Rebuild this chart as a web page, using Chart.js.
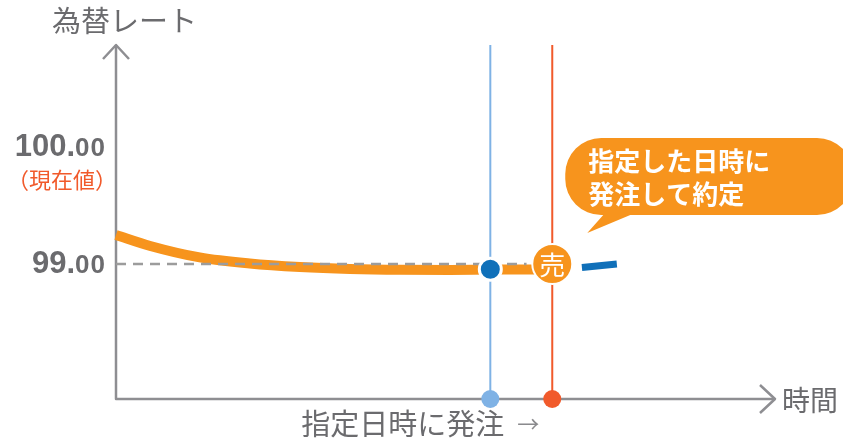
<!DOCTYPE html>
<html lang="ja">
<head>
<meta charset="utf-8">
<script src="https://cdn.jsdelivr.net/npm/chart.js@4.4.1/dist/chart.umd.min.js"></script>
<style>
  html, body { margin: 0; padding: 0; background: #fff; }
  #chart { display: block; }
</style>
</head>
<body>
<canvas id="chart" width="843" height="442"></canvas>
<script>
// 時間 (0〜100) と為替レート
const curveTimes = [0, 5.2, 12.7, 20.3, 27.9, 35.5, 43.1, 50.7, 56.8, 62.8, 66.2];
const curveRates = [99.248, 99.154, 99.056, 99.004, 98.974, 98.957, 98.95, 98.949, 98.952, 98.953, 98.953];
const afterTimes = [70.7, 76.0];
const afterRates = [98.97, 99.0];

const orderTime = 56.8;   // 指定日時
const orderRate = 98.955;
const saleTime = 66.2;    // 約定
const saleRate = 99.0;

const refRate = 99;
const refEnd = 62.3;

const yTicks = [99, 100];
const yTickLabels = ["99.00", "100.00"];
const rateMin = 97.846, rateMax = 100.872;
const timeMin = 0, timeMax = 100;

const gray = "#8e8e92";
const textGray = "#6b6b6e";
const orange = "#f7941d";
const red = "#f15a2b";
const lightBlue = "#7fb2e5";
const blue = "#1070b9";
const jp = '"Noto Sans CJK JP", sans-serif';
const num = '"Liberation Sans", Arial, sans-serif';

const pts = (xs, ys) => xs.map((v, i) => ({ x: v, y: ys[i] }));

// 軸・ラベル・吹き出し
const decor = {
  id: "decor",
  beforeDatasetsDraw(chart) {
    const { ctx, scales: { x, y } } = chart;
    const x0 = x.getPixelForValue(timeMin), x1 = x.getPixelForValue(timeMax);
    const y0 = y.getPixelForValue(rateMin), y1 = y.getPixelForValue(rateMax);
    ctx.save();
    ctx.strokeStyle = gray;
    ctx.lineWidth = 2.5;
    ctx.lineJoin = "round";
    ctx.beginPath();
    ctx.moveTo(x0, y1); ctx.lineTo(x0, y0); ctx.lineTo(x1, y0);
    ctx.stroke();
    ctx.beginPath();
    ctx.moveTo(x0 - 13, y1 + 14); ctx.lineTo(x0, y1); ctx.lineTo(x0 + 13, y1 + 14);
    ctx.moveTo(x1 - 15, y0 - 14); ctx.lineTo(x1, y0); ctx.lineTo(x1 - 15, y0 + 14);
    ctx.stroke();
    ctx.restore();
  },
  afterDatasetsDraw(chart) {
    const { ctx, scales: { x, y } } = chart;
    const x0 = x.getPixelForValue(timeMin), x1 = x.getPixelForValue(timeMax);
    const y0 = y.getPixelForValue(rateMin), y1 = y.getPixelForValue(rateMax);
    ctx.save();

    // 軸タイトル
    ctx.fillStyle = textGray;
    ctx.textBaseline = "middle";
    ctx.textAlign = "left";
    ctx.font = "29px " + jp;
    ctx.fillText("為替レート", x0 - 64, y1 - 24);
    ctx.font = "28px " + jp;
    ctx.fillText("時間", x1 + 7, y0 + 1);
    const ox = x.getPixelForValue(orderTime);
    ctx.font = "29px " + jp;
    ctx.fillText("指定日時に発注", ox - 189, y0 + 25);
    ctx.fillStyle = "#8a8a8d";
    ctx.font = "22px " + jp;
    ctx.fillText("→", ox + 27, y0 + 25);

    // 目盛ラベル
    ctx.fillStyle = textGray;
    ctx.textBaseline = "alphabetic";
    ctx.textAlign = "right";
    yTicks.forEach((t, i) => {
      const ty = y.getPixelForValue(t);
      const [a, b] = yTickLabels[i].split(".");
      const right = x0 - 10;
      ctx.font = "bold 26px " + num;
      ctx.letterSpacing = "1px";
      ctx.fillText(b, right, ty + 9);
      const w = ctx.measureText(b).width;
      ctx.letterSpacing = "0px";
      ctx.font = "bold 31px " + num;
      ctx.fillText(a + ".", right - w, ty + 9);
    });
    ctx.fillStyle = red;
    ctx.font = "22px " + jp;
    ctx.textBaseline = "middle";
    ctx.fillText("（現在値）", x0 + 1, y.getPixelForValue(100) + 33);

    // 売
    const sale = chart.getDatasetMeta(0).data[0];
    ctx.fillStyle = "#fff";
    ctx.textAlign = "center";
    ctx.font = "26px " + jp;
    ctx.fillText("売", sale.x, sale.y + 1);

    // 吹き出し
    const bl = sale.x + 13, bt = sale.y - 126, bb = sale.y - 49, br = chart.width + 10, r = 36;
    ctx.fillStyle = orange;
    ctx.beginPath();
    ctx.moveTo(bl + r, bt);
    ctx.lineTo(br - r, bt);
    ctx.arcTo(br, bt, br, bb, r);
    ctx.arcTo(br, bb, bl, bb, r);
    ctx.lineTo(sale.x + 78, bb);
    ctx.lineTo(sale.x + 35, sale.y - 31);
    ctx.lineTo(sale.x + 51, bb);
    ctx.lineTo(bl + r, bb);
    ctx.arcTo(bl, bb, bl, bt, r);
    ctx.arcTo(bl, bt, br, bt, r);
    ctx.closePath();
    ctx.fill();
    ctx.fillStyle = "#fff";
    ctx.textAlign = "left";
    ctx.font = "bold 26px " + jp;
    ctx.fillText("指定した日時に", sale.x + 36, sale.y - 103);
    ctx.fillText("発注して約定", sale.x + 36, sale.y - 70);

    ctx.restore();
  }
};

// 先頭のデータセットほど手前に描かれる
new Chart(document.getElementById("chart"), {
  type: "line",
  data: {
    datasets: [
      {
        data: [{ x: saleTime, y: saleRate }],
        showLine: false,
        pointRadius: 20,
        pointBackgroundColor: orange,
        pointBorderColor: "#fff",
        pointBorderWidth: 2
      },
      {
        data: [{ x: orderTime, y: orderRate }],
        showLine: false,
        pointRadius: 11,
        pointBackgroundColor: blue,
        pointBorderColor: "#fff",
        pointBorderWidth: 3
      },
      {
        data: [{ x: timeMin, y: refRate }, { x: refEnd, y: refRate }],
        borderColor: "#9c9c9c",
        borderWidth: 2.5,
        borderDash: [10, 7],
        pointRadius: 0
      },
      {
        data: pts(curveTimes, curveRates),
        borderColor: orange,
        borderWidth: 10,
        cubicInterpolationMode: "monotone",
        pointRadius: 0
      },
      {
        data: pts(afterTimes, afterRates),
        borderColor: blue,
        borderWidth: 7,
        pointRadius: 0
      },
      {
        data: [{ x: orderTime, y: rateMin }, { x: orderTime, y: rateMax }],
        borderColor: lightBlue,
        borderWidth: 2,
        pointRadius: [9, 0],
        pointBorderWidth: 0,
        pointBackgroundColor: lightBlue
      },
      {
        data: [{ x: saleTime, y: rateMin }, { x: saleTime, y: rateMax }],
        borderColor: red,
        borderWidth: 2,
        pointRadius: [9, 0],
        pointBorderWidth: 0,
        pointBackgroundColor: red
      }
    ]
  },
  options: {
    responsive: false,
    animation: false,
    events: [],
    clip: false,
    layout: { padding: { left: 116, right: 68, top: 45, bottom: 43 } },
    scales: {
      x: { type: "linear", min: timeMin, max: timeMax, display: false },
      y: { type: "linear", min: rateMin, max: rateMax, display: false }
    },
    plugins: { legend: { display: false }, tooltip: { enabled: false } }
  },
  plugins: [decor]
});
</script>
</body>
</html>
